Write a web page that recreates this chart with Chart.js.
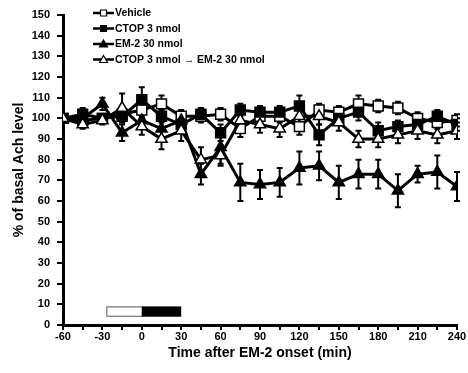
<!DOCTYPE html>
<html>
<head>
<meta charset="utf-8">
<script src="https://cdn.jsdelivr.net/npm/chart.js@4.4.0/dist/chart.umd.min.js"></script>
<style>
  body { margin: 0; background: #fff; }
  #wrap { width: 468px; height: 373px; }
</style>
</head>
<body>
<div id="wrap"><canvas id="myChart" width="468" height="373"></canvas></div>
<script>
// Time after EM-2 onset (min)
const timePoints = [-60, -45, -30, -15, 0, 15, 30, 45, 60, 75, 90, 105, 120, 135, 150, 165, 180, 195, 210, 225, 240];

// % of basal Ach level (mean)
const vehicle = [100, 99, 100, 102, 104, 107, 101, 101, 102, 95, 101, 101, 96, 104, 103, 107, 106, 105, 100, 98, 99];
const ctop    = [100, 102, 100, 101, 109, 101, 97, 102, 93, 104, 103, 103, 106, 92, 100, 103, 94, 96, 97, 101, 97];
const em2     = [100, 100, 107, 93, 99, 95, 99, 73, 86, 69, 68, 69, 76, 77, 69, 73, 73, 65, 73, 74, 67];
const ctopEm2 = [100, 97, 99, 105, 96, 90, 94, 80, 82, 99, 97, 95, 101, 101, 98, 90, 90, 92, 94, 92, 94];

// SEM
const vehicleErr = [0, 2, 2, 3, 3, 4, 3, 3, 3, 4, 3, 3, 4, 3, 3, 4, 3, 3, 3, 3, 3];
const ctopErr    = [0, 3, 2, 3, 6, 3, 3, 3, 4, 3, 3, 3, 5, 5, 3, 4, 4, 3, 3, 3, 3];
const em2Err     = [0, 2, 3, 4, 4, 4, 4, 5, 8, 9, 7, 7, 8, 7, 8, 7, 7, 8, 4, 8, 7];
const ctopEm2Err = [0, 2, 2, 7, 4, 5, 5, 6, 5, 4, 4, 4, 4, 4, 4, 4, 4, 4, 4, 4, 4];

const seriesLabels = ['Vehicle', 'CTOP 3 nmol', 'EM-2 30 nmol', 'CTOP 3 nmol \u2192 EM-2 30 nmol'];

// treatment bar below the curves: CTOP then EM-2
const treatStart = [-27, 0];
const treatEnd = [0, 30];
const treatLow = 4;
const treatHigh = 9;

const FONT = "'Liberation Sans', Arial, sans-serif";

function toPoints(vals, errs) {
    return timePoints.map((t, i) => ({ x: t, y: vals[i], err: errs[i] }));
}

// error bars drawn behind markers
const errorBars = {
    id: 'errorBars',
    beforeDatasetsDraw(chart) {
        const ctx = chart.ctx;
        const xs = chart.scales.x, ys = chart.scales.y;
        ctx.save();
        ctx.strokeStyle = '#000';
        ctx.lineWidth = 2;
        chart.data.datasets.forEach(ds => {
            ds.data.forEach(p => {
                if (!p.err) return;
                const px = xs.getPixelForValue(p.x);
                const top = ys.getPixelForValue(p.y + p.err);
                const bot = ys.getPixelForValue(p.y - p.err);
                ctx.beginPath();
                ctx.moveTo(px, top); ctx.lineTo(px, bot);
                ctx.moveTo(px - 3, top); ctx.lineTo(px + 3, top);
                ctx.moveTo(px - 3, bot); ctx.lineTo(px + 3, bot);
                ctx.stroke();
            });
        });
        ctx.restore();
    }
};

const treatmentBar = {
    id: 'treatmentBar',
    afterDatasetsDraw(chart) {
        const ctx = chart.ctx;
        const xs = chart.scales.x, ys = chart.scales.y;
        const y1 = ys.getPixelForValue(treatHigh);
        const y2 = ys.getPixelForValue(treatLow);
        ctx.save();
        for (let i = 0; i < treatStart.length; i++) {
            const x1 = xs.getPixelForValue(treatStart[i]);
            const x2 = xs.getPixelForValue(treatEnd[i]);
            if (i === 0) {
                ctx.fillStyle = '#fff';
                ctx.fillRect(x1, y1, x2 - x1, y2 - y1);
                ctx.strokeStyle = '#555';
                ctx.lineWidth = 1;
                ctx.strokeRect(x1 + 0.5, y1 + 0.5, x2 - x1, y2 - y1 - 1);
            } else {
                ctx.fillStyle = '#000';
                ctx.fillRect(x1, y1, x2 - x1, y2 - y1);
            }
        }
        ctx.restore();
    }
};

// legend: short line with marker, then the label
const lineLegend = {
    id: 'lineLegend',
    afterDraw(chart) {
        const ctx = chart.ctx;
        ctx.save();
        ctx.font = 'bold 10.5px ' + FONT;
        ctx.textBaseline = 'middle';
        chart.data.datasets.forEach((ds, i) => {
            const y = 13 + i * 15.5;
            ctx.strokeStyle = '#000';
            ctx.lineWidth = 2.5;
            ctx.beginPath();
            ctx.moveTo(93, y); ctx.lineTo(114, y);
            ctx.stroke();
            ctx.fillStyle = ds.pointBackgroundColor;
            ctx.lineWidth = 1.2;
            ctx.beginPath();
            if (ds.pointStyle === 'rect') {
                ctx.rect(100.5, y - 3, 6, 6);
            } else {
                ctx.moveTo(103.5, y - 4);
                ctx.lineTo(107.5, y + 3);
                ctx.lineTo(99.5, y + 3);
                ctx.closePath();
            }
            ctx.fill();
            ctx.stroke();
            ctx.fillStyle = '#000';
            ctx.fillText(seriesLabels[i], 115, y + 0.5);
        });
        ctx.restore();
    }
};

function makeSet(label, pts, style, fill, order) {
    return {
        label: label,
        data: pts,
        borderColor: '#000',
        borderWidth: 3,
        pointStyle: style,
        pointRadius: style === 'rect' ? 7 : 6.5,
        pointBackgroundColor: fill,
        pointBorderColor: '#000',
        pointBorderWidth: 1.5,
        tension: 0,
        order: order
    };
}

const ctx = document.getElementById('myChart').getContext('2d');
new Chart(ctx, {
    type: 'line',
    data: {
        datasets: [
            makeSet(seriesLabels[0], toPoints(vehicle, vehicleErr), 'rect', '#fff', 3),
            makeSet(seriesLabels[1], toPoints(ctop, ctopErr), 'rect', '#000', 2),
            makeSet(seriesLabels[2], toPoints(em2, em2Err), 'triangle', '#000', 1),
            makeSet(seriesLabels[3], toPoints(ctopEm2, ctopEm2Err), 'triangle', '#fff', 0)
        ]
    },
    options: {
        responsive: false,
        animation: false,
        layout: { padding: { top: 15, right: 11, bottom: 0, left: 0 } },
        plugins: {
            legend: { display: false },
            tooltip: { enabled: false }
        },
        scales: {
            x: {
                type: 'linear',
                min: -60,
                max: 240,
                afterFit: s => { s.height = 48; },
                ticks: {
                    stepSize: 15,
                    autoSkip: false,
                    maxRotation: 0,
                    padding: 0,
                    color: '#000',
                    font: { family: FONT, size: 11, weight: 'bold' },
                    callback: v => (v % 30 === 0 ? v : '')
                },
                grid: { drawOnChartArea: false, tickLength: 5, color: '#000', lineWidth: 2 },
                border: { color: '#000', width: 3 },
                title: {
                    display: true,
                    text: 'Time after EM-2 onset (min)',
                    color: '#000',
                    font: { family: FONT, size: 14, weight: 'bold' },
                    padding: { top: 0, bottom: 11 }
                }
            },
            y: {
                min: 0,
                max: 150,
                afterFit: s => { s.width = 63; },
                ticks: {
                    stepSize: 10,
                    padding: 7,
                    color: '#000',
                    font: { family: FONT, size: 11, weight: 'bold' }
                },
                grid: { drawOnChartArea: false, tickLength: 6, color: '#000', lineWidth: 2 },
                border: { color: '#000', width: 3 },
                title: {
                    display: true,
                    text: '% of basal Ach level',
                    color: '#000',
                    font: { family: FONT, size: 14, weight: 'bold' },
                    padding: { top: 11, bottom: 0 }
                }
            }
        }
    },
    plugins: [errorBars, treatmentBar, lineLegend]
});
</script>
</body>
</html>
